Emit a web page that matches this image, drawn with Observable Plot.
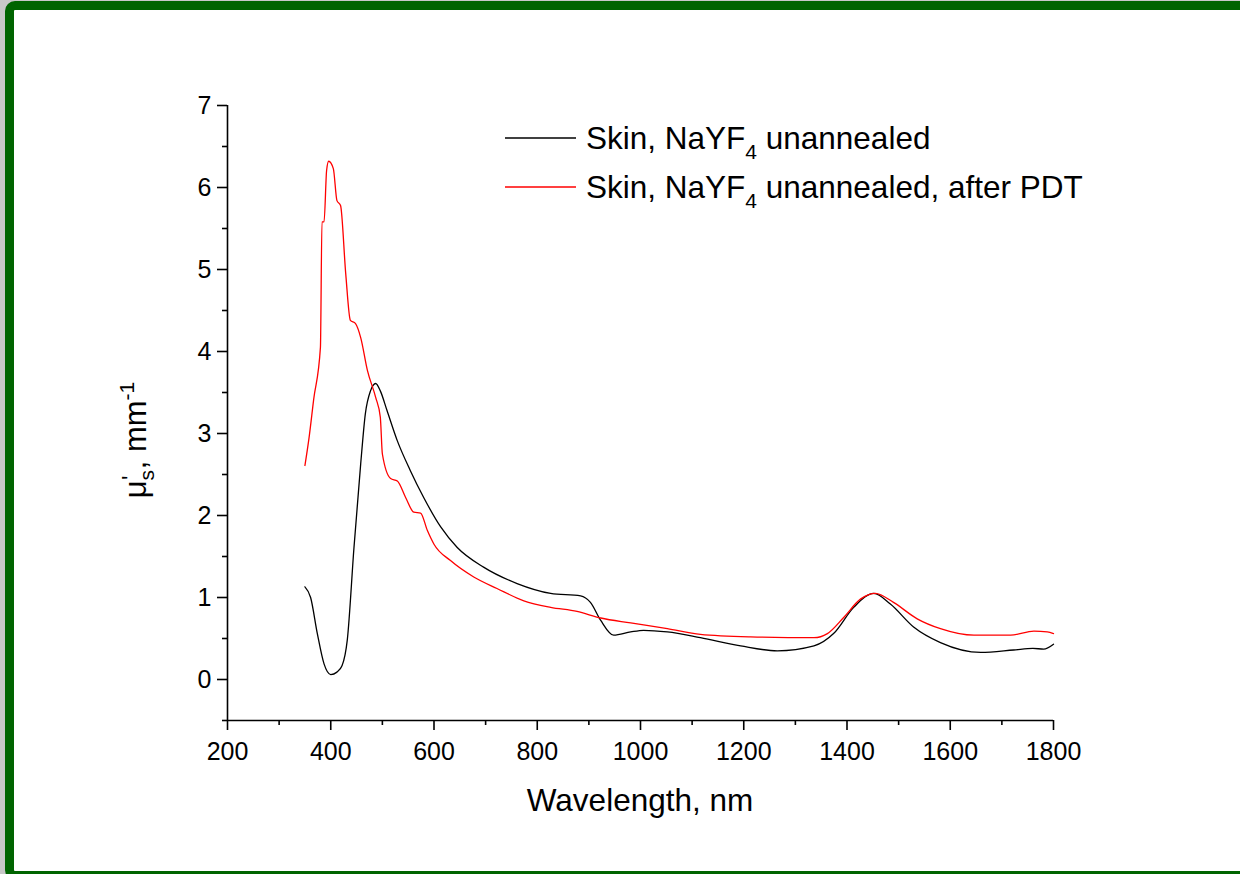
<!DOCTYPE html>
<html>
<head>
<meta charset="utf-8">
<script src="https://cdn.jsdelivr.net/npm/d3@7"></script>
<script src="https://cdn.jsdelivr.net/npm/@observablehq/plot@0.6"></script>
<style>
  html, body { margin: 0; padding: 0; width: 1240px; height: 874px; overflow: hidden; background: #c8c8c8; }
  #frame { position: absolute; left: 5px; top: 1px; width: 1250px; height: 879px; box-sizing: border-box;
           border: 9px solid #006400; border-radius: 10px; background: #ffffff; }
  #chart { position: absolute; left: 0; top: 0; }
  #chart svg { display: block; }
</style>
</head>
<body>
<div id="frame"></div>
<div id="chart"></div>
<script>
// ---- data ----
const seriesNames = ["Skin, NaYF4 unannealed", "Skin, NaYF4 unannealed, after PDT"];
const seriesColors = ["#000000", "#ff0000"];

const blackWl = [350, 361, 374, 387, 400, 412, 422, 432, 445, 458, 467, 477, 487, 496, 509, 529, 554, 580, 613, 645, 696, 761, 826, 884, 903, 923, 948, 981, 1006, 1052, 1116, 1194, 1265, 1336, 1374, 1413, 1452, 1484, 1529, 1581, 1659, 1723, 1760, 1781, 1800];
const blackMu = [1.13, 1.00, 0.56, 0.19, 0.06, 0.09, 0.17, 0.48, 1.61, 2.63, 3.24, 3.52, 3.61, 3.52, 3.28, 2.91, 2.55, 2.22, 1.86, 1.61, 1.37, 1.17, 1.05, 1.02, 0.94, 0.72, 0.54, 0.58, 0.60, 0.58, 0.51, 0.41, 0.35, 0.41, 0.56, 0.88, 1.05, 0.92, 0.64, 0.45, 0.33, 0.36, 0.38, 0.37, 0.43];

const redWl = [350, 358, 367, 380, 383, 387, 392, 396, 405, 412, 419, 429, 438, 448, 458, 471, 487, 496, 500, 516, 529, 545, 561, 574, 587, 600, 632, 677, 722, 774, 826, 877, 923, 981, 1052, 1116, 1213, 1336, 1362, 1394, 1426, 1455, 1490, 1536, 1581, 1646, 1717, 1762, 1788, 1800];
const redMu = [2.61, 2.95, 3.42, 4.05, 5.58, 5.58, 6.21, 6.32, 6.23, 5.84, 5.78, 4.95, 4.38, 4.34, 4.17, 3.77, 3.44, 3.20, 2.75, 2.45, 2.42, 2.22, 2.04, 2.03, 1.82, 1.65, 1.45, 1.25, 1.11, 0.96, 0.88, 0.83, 0.75, 0.69, 0.62, 0.55, 0.52, 0.51, 0.56, 0.76, 0.98, 1.05, 0.94, 0.74, 0.62, 0.54, 0.54, 0.59, 0.58, 0.56];

const xMajor = [200, 400, 600, 800, 1000, 1200, 1400, 1600, 1800];
const xMinor = [300, 500, 700, 900, 1100, 1300, 1500, 1700];
const yMajor = [0, 1, 2, 3, 4, 5, 6, 7];
const yMinor = [-0.5, 0.5, 1.5, 2.5, 3.5, 4.5, 5.5, 6.5];
const xDomain = [200, 1800];
const yDomain = [-0.5, 7];

// ---- build tables ----
const black = blackWl.map((w, i) => ({w, mu: blackMu[i]}));
const red = redWl.map((w, i) => ({w, mu: redMu[i]}));

const FONT = "'Liberation Sans', Arial, Helvetica, sans-serif";

const plot = Plot.plot({
  width: 1240,
  height: 874,
  marginLeft: 227,
  marginRight: 187,
  marginTop: 105,
  marginBottom: 154,
  style: {fontFamily: FONT, fontSize: "25px", background: "transparent", color: "#000"},
  x: {domain: xDomain},
  y: {domain: yDomain},
  marks: [
    Plot.ruleY([yDomain[0]], {stroke: "#000", strokeWidth: 1.6}),
    Plot.ruleX([xDomain[0]], {stroke: "#000", strokeWidth: 1.6}),
    Plot.axisX({ticks: xMajor, tickSize: 10, tickPadding: 12, strokeWidth: 1.6, label: null, fontSize: 25, tickFormat: d => String(d)}),
    Plot.axisX({ticks: xMinor, tickSize: 5, strokeWidth: 1.6, text: null, label: null}),
    Plot.axisY({ticks: yMajor, tickSize: 10, tickPadding: 6, strokeWidth: 1.6, label: null, fontSize: 25, tickFormat: d => String(d)}),
    Plot.axisY({ticks: yMinor, tickSize: 5, strokeWidth: 1.6, text: null, label: null}),
    Plot.line(black, {x: "w", y: "mu", stroke: seriesColors[0], strokeWidth: 1.3, curve: "monotone-x"}),
    Plot.line(red, {x: "w", y: "mu", stroke: seriesColors[1], strokeWidth: 1.3, curve: "monotone-x"})
  ]
});

document.getElementById("chart").appendChild(plot);

// ---- annotations: axis titles and legend (rich text with sub/superscripts) ----
const svg = d3.select(plot);
const xs = plot.scale("x");
const cx = (xs.range[0] + xs.range[1]) / 2;

svg.append("text")
  .attr("x", cx).attr("y", 811)
  .attr("text-anchor", "middle")
  .attr("font-family", FONT).attr("font-size", 31.5).attr("fill", "#000")
  .text("Wavelength, nm");

const yl = svg.append("text")
  .attr("transform", "translate(146,440) rotate(-90)")
  .attr("text-anchor", "middle")
  .attr("font-family", FONT).attr("font-size", 31).attr("fill", "#000");
yl.append("tspan").text("\u03BC");
yl.append("tspan").attr("font-size", 21).attr("dy", 8).text("s");
yl.append("tspan").attr("font-size", 24).attr("dx", -10).attr("dy", -15).text("'");
yl.append("tspan").attr("dx", 6).attr("dy", 7).text(", mm");
yl.append("tspan").attr("font-size", 21).attr("dy", -12).text("-1");

const legendRows = [
  {name: seriesNames[0], color: seriesColors[0], parts: ["Skin, NaYF", "4", " unannealed"]},
  {name: seriesNames[1], color: seriesColors[1], parts: ["Skin, NaYF", "4", " unannealed, after PDT"]}
];
legendRows.forEach((r, i) => {
  const yLine = 138 + 49 * i;
  svg.append("line")
    .attr("x1", 505).attr("x2", 576).attr("y1", yLine).attr("y2", yLine)
    .attr("stroke", r.color).attr("stroke-width", 1.3);
  const t = svg.append("text")
    .attr("x", 586).attr("y", yLine + 11)
    .attr("text-anchor", "start")
    .attr("font-family", FONT).attr("font-size", 31.5).attr("fill", "#000");
  t.append("tspan").text(r.parts[0]);
  t.append("tspan").attr("font-size", 21).attr("dy", 10).text(r.parts[1]);
  t.append("tspan").attr("dy", -10).text(r.parts[2]);
});
</script>
</body>
</html>
